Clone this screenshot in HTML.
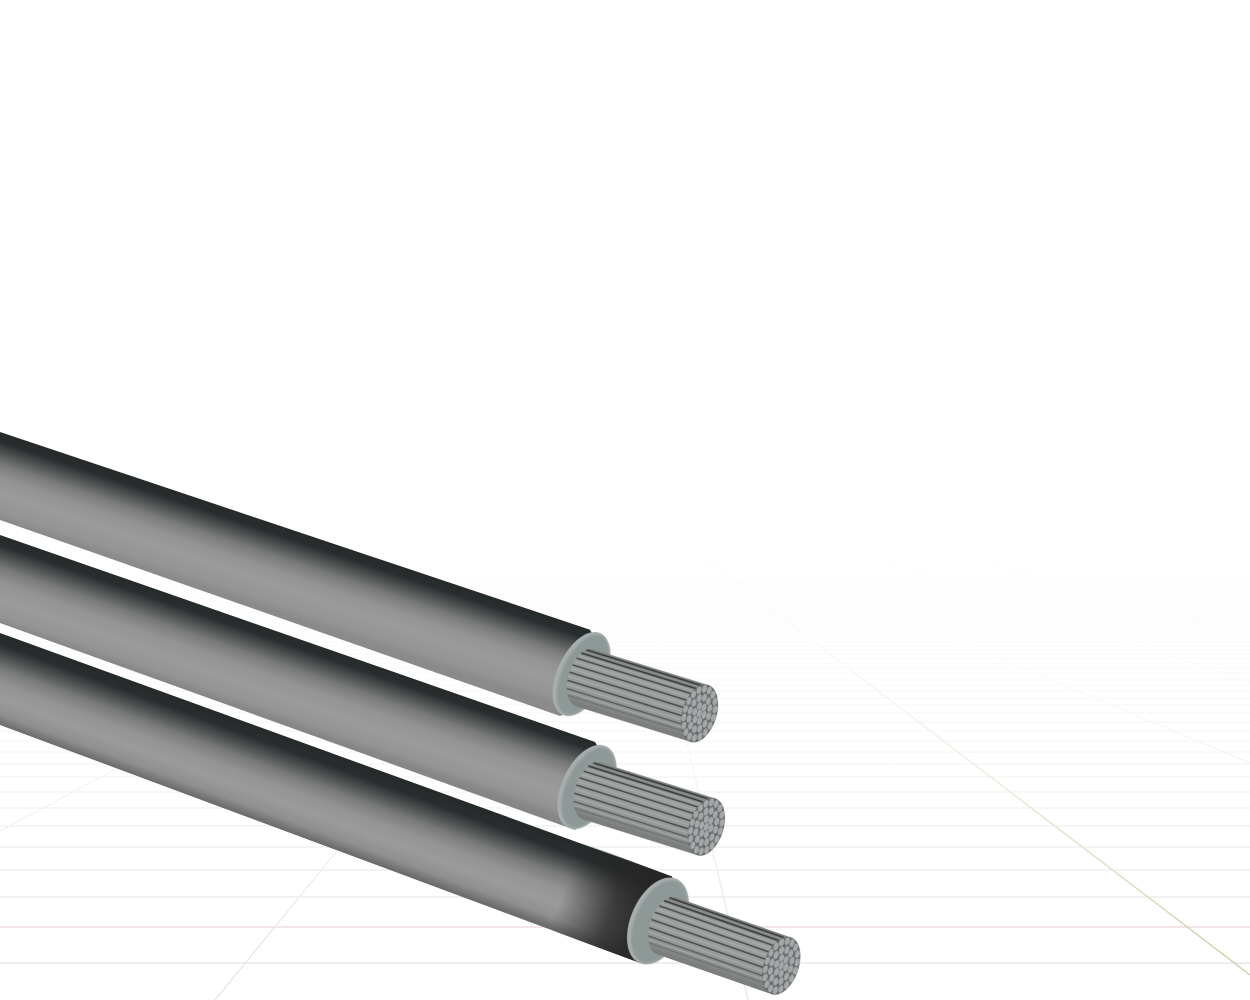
<!DOCTYPE html>
<html>
<head>
<meta charset="utf-8">
<style>
html,body{margin:0;padding:0;background:#fff;width:1250px;height:1000px;overflow:hidden}
svg{display:block}
</style>
</head>
<body>
<svg width="1250" height="1000" viewBox="0 0 1250 1000" xmlns="http://www.w3.org/2000/svg">
<defs>
<filter id="b1" x="-10%" y="-10%" width="120%" height="120%"><feGaussianBlur stdDeviation=".35"/></filter>
<filter id="b2" x="-10%" y="-10%" width="120%" height="120%"><feGaussianBlur stdDeviation="1"/></filter>
<linearGradient id="fog" gradientUnits="userSpaceOnUse" x1="0" y1="535" x2="0" y2="965">
<stop offset="0" stop-color="#fff" stop-opacity=".97"/>
<stop offset=".25" stop-color="#fff" stop-opacity=".9"/>
<stop offset=".5" stop-color="#fff" stop-opacity=".68"/>
<stop offset=".75" stop-color="#fff" stop-opacity=".38"/>
<stop offset="1" stop-color="#fff" stop-opacity="0"/>
</linearGradient>
<linearGradient id="top" x1="0" y1="0" x2="0" y2="1">
<stop offset="0" stop-color="#fff"/>
<stop offset=".25" stop-color="#fdfdfd"/>
<stop offset=".7" stop-color="#fdfdfd"/>
<stop offset="1" stop-color="#fdfdfd" stop-opacity="0"/>
</linearGradient>
<linearGradient id="c1" gradientUnits="userSpaceOnUse" x1="0" y1="432" x2="-26.5" y2="511">
<stop offset="0" stop-color="#252a2a"/>
<stop offset=".11" stop-color="#292d2d"/>
<stop offset=".22" stop-color="#4c4f4f"/>
<stop offset=".36" stop-color="#787979"/>
<stop offset=".52" stop-color="#939394"/>
<stop offset=".7" stop-color="#9c9b9c"/>
<stop offset=".9" stop-color="#949494"/>
<stop offset="1" stop-color="#8a8a8a"/>
</linearGradient>
<linearGradient id="c2" gradientUnits="userSpaceOnUse" x1="0" y1="535" x2="-27.7" y2="615">
<stop offset="0" stop-color="#252a2a"/>
<stop offset=".11" stop-color="#292d2d"/>
<stop offset=".22" stop-color="#4c4f4f"/>
<stop offset=".36" stop-color="#787979"/>
<stop offset=".52" stop-color="#939394"/>
<stop offset=".72" stop-color="#9c9b9c"/>
<stop offset=".9" stop-color="#949494"/>
<stop offset="1" stop-color="#868686"/>
</linearGradient>
<linearGradient id="c3" gradientUnits="userSpaceOnUse" x1="0" y1="633" x2="-29.8" y2="714">
<stop offset="0" stop-color="#252a2a"/>
<stop offset=".12" stop-color="#292d2d"/>
<stop offset=".24" stop-color="#4c4f4f"/>
<stop offset=".38" stop-color="#787979"/>
<stop offset=".54" stop-color="#939394"/>
<stop offset=".72" stop-color="#9c9b9c"/>
<stop offset=".88" stop-color="#8f8f8f"/>
<stop offset="1" stop-color="#6c6c6c"/>
</linearGradient>
<linearGradient id="dark3" gradientUnits="userSpaceOnUse" x1="565" y1="885" x2="640" y2="912">
<stop offset="0" stop-color="#262626" stop-opacity="0"/>
<stop offset=".65" stop-color="#262626" stop-opacity=".78"/>
<stop offset="1" stop-color="#262626" stop-opacity=".95"/>
</linearGradient>
<linearGradient id="strand" x1="0" y1="0" x2="0" y2="1">
<stop offset="0" stop-color="#808383"/>
<stop offset=".25" stop-color="#9c9e9e"/>
<stop offset=".7" stop-color="#979999"/>
<stop offset="1" stop-color="#797b7b"/>
</linearGradient>
<g id="core">
<g filter="url(#b1)">
<path d="M0 -30A17 30 0 0 0 0 30L121 30A17 30 0 0 0 121 -30Z" fill="url(#strand)"/>
<g fill="none">
<path d="M-7 -27.5H114M-11 -23H110" stroke="#3a3d3d" stroke-width="1.7"/>
<path d="M-14 -16.5H107M-16 -9H105M-16.9 -1H104.1M-16.3 7.5H104.7" stroke="#464949" stroke-width="1.5"/>
<path d="M-14.6 15.5H106.4" stroke="#565959" stroke-width="1.3"/>
<path d="M-11.5 22H109.5" stroke="#6f7272" stroke-width="1.2"/>
<path d="M-8 26.5H113" stroke="#7a7d7d" stroke-width="1"/>
</g>
<g stroke="#aaacac" stroke-width="1.5" fill="none" opacity=".75">
<path d="M-12.5 -19.8H108.5M-15.2 -12.8H105.8M-16.6 -5H104.4M-16.8 3.2H104.2M-15.6 11.5H105.4M-13 18.7H108"/>
</g>
<g transform="translate(121 0) scale(.58 1)">
<ellipse rx="30" ry="30" fill="#6a6e6e"/>
<g fill="none" stroke="#a3a7a7" stroke-linecap="round" stroke-width="8">
<circle r="25.5" stroke-dasharray="0 8.9"/>
<circle r="16.8" stroke-dasharray="0 8.8"/>
<circle r="8.4" stroke-dasharray="0 8.8"/>
</g>
<circle r="4" fill="#a3a7a7"/>
</g>
</g>
</g>
</defs>

<rect width="1250" height="1000" fill="#fff"/>
<rect y="535" width="1250" height="110" fill="url(#top)"/>

<path fill="none" stroke="#e2e2e2" stroke-width="1.2" d="M0 963H1250M0 897H1250M0 870H1250M0 847H1250M0 826H1250M0 808H1250M0 792H1250M0 777H1250M0 764H1250M0 752H1250M0 741H1250M0 731H1250M0 722H1250M0 713H1250M0 705H1250M0 698H1250M0 691H1250M0 685H1250M0 679H1250M0 673H1250M0 668H1250M0 663H1250M0 658H1250M0 654H1250M0 650H1250M0 646H1250M0 642H1250M0 638H1250M0 635H1250M0 632H1250M0 629H1250M0 626H1250M0 623H1250M0 620H1250M0 618H1250M0 616H1250M0 614H1250M0 612H1250M0 610H1250M0 608H1250M0 606H1250M0 604H1250M0 602H1250M0 600H1250M0 598H1250M0 596H1250M0 594H1250M0 592H1250M0 590H1250M0 588H1250M0 586H1250M0 584H1250M0 582H1250"/>
<path d="M0 927H1250" stroke="#e8d0d6" stroke-width="1.2"/>
<g fill="none" stroke-width="1.2">
<path d="M0 831L116 769M215 1000L337 851M748 1000L650 588" stroke="#e4e4e4"/>
<path d="M800 575L1250 763M880 560L1250 682M960 555L1250 637" stroke="#e0e0e0"/>
<path d="M700 555L1250 975" stroke="#c4d3a4" stroke-width="1.4"/>
</g>
<rect y="535" width="1250" height="430" fill="url(#fog)"/>

<!-- cable 1 -->
<path d="M0 432L590 629.7L596 640L575 710L560 716L0 520Z" fill="url(#c1)"/>
<g transform="translate(581.5 674) rotate(-65)">
<ellipse rx="45" ry="24" fill="#a7afae" filter="url(#b1)"/>
<ellipse cy="1.5" rx="43" ry="21" fill="#8e9897" filter="url(#b2)"/>
</g>
<use href="#core" transform="translate(585 678) rotate(17.2) scale(.99)"/>

<!-- cable 2 -->
<path d="M0 535L595 742L600 750L580 825L575 830L0 623Z" fill="url(#c2)"/>
<g transform="translate(587 787) rotate(-65)">
<ellipse rx="45" ry="25" fill="#a7afae" filter="url(#b1)"/>
<ellipse cy="1.5" rx="43" ry="22" fill="#8e9897" filter="url(#b2)"/>
</g>
<use href="#core" transform="translate(592 791) rotate(17.4) scale(.99)"/>

<!-- cable 3 -->
<path d="M0 633L672 876.5L675 890L650 955L640 963L0 725Z" fill="url(#c3)"/>
<path d="M540 827L672 876.5L675 890L650 955L640 963L510 915Z" fill="url(#dark3)"/>
<g transform="translate(658 921) rotate(-66)">
<ellipse rx="46" ry="27" fill="#a7afae" filter="url(#b1)"/>
<ellipse cy="1.5" rx="44" ry="24" fill="#8e9897" filter="url(#b2)"/>
</g>
<use href="#core" transform="translate(667 926) rotate(19.2)"/>
</svg>
</body>
</html>
